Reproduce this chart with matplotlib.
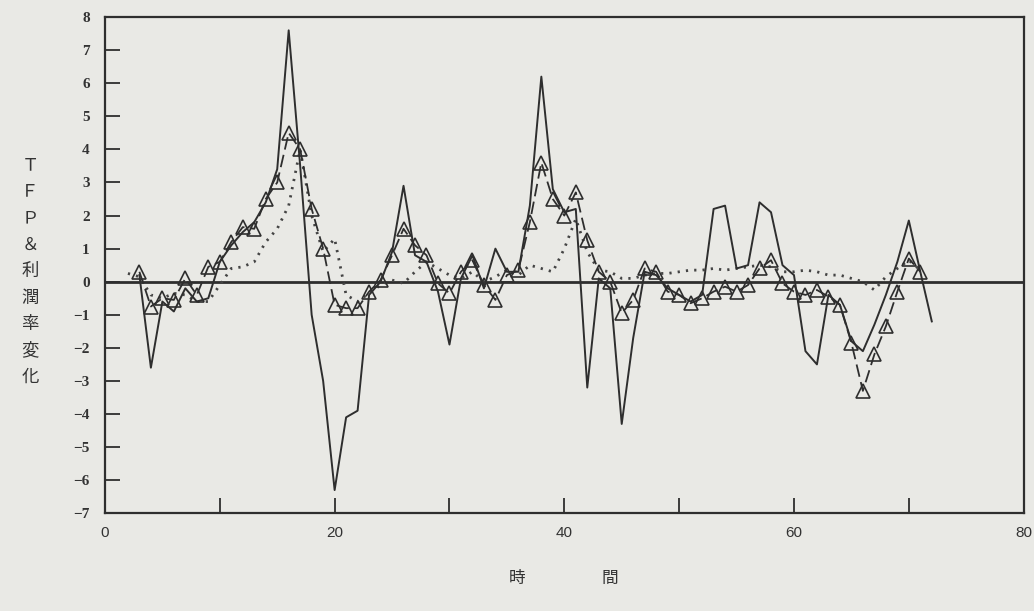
import matplotlib
matplotlib.use("Agg")
import matplotlib.pyplot as plt
from matplotlib.ticker import MultipleLocator, FuncFormatter

# ---- data ----
x_solid = list(range(3, 73))
solid = [0.2, -2.6, -0.6, -0.9, -0.2, -0.6, -0.5, 0.6, 1.1, 1.5,
         1.8, 2.4, 3.4, 7.6, 3.5, -1.0, -3.0, -6.3, -4.1, -3.9,
         -0.4, 0.0, 0.9, 2.9, 0.8, 0.6, -0.3, -1.9, 0.1, 0.8,
         -0.2, 1.0, 0.3, 0.3, 2.3, 6.2, 2.8, 2.1, 2.2, -3.2,
         0.1, -0.2, -4.3, -1.7, 0.3, 0.2, -0.2, -0.4, -0.6, -0.4,
         2.2, 2.3, 0.4, 0.5, 2.4, 2.1, 0.5, 0.2, -2.1, -2.5,
         -0.4, -0.7, -1.8, -2.1, -1.3, -0.4, 0.6, 1.85, 0.3, -1.2]

x_tri = list(range(3, 72))
tri = [0.3, -0.75, -0.5, -0.55, 0.1, -0.4, 0.45, 0.6, 1.2, 1.65,
       1.6, 2.5, 3.0, 4.5, 4.0, 2.2, 1.0, -0.7, -0.8, -0.8,
       -0.3, 0.05, 0.8, 1.6, 1.1, 0.8, -0.05, -0.35, 0.3, 0.65,
       -0.1, -0.55, 0.2, 0.35, 1.8, 3.6, 2.5, 2.0, 2.7, 1.25,
       0.3, 0.0, -0.95, -0.55, 0.4, 0.3, -0.3, -0.4, -0.65, -0.5,
       -0.3, -0.15, -0.3, -0.1, 0.4, 0.65, -0.05, -0.3, -0.4, -0.25,
       -0.45, -0.7, -1.85, -3.3, -2.2, -1.35, -0.3, 0.7, 0.3]

x_dot = list(range(2, 72))
dot = [0.25, 0.15, -0.4, -0.5, -0.35, -0.4, -0.6, -0.6, -0.1, 0.4,
       0.45, 0.6, 1.2, 1.6, 2.3, 4.0, 2.0, 0.9, 1.3, -0.4,
       -0.6, -0.35, -0.1, 0.05, -0.05, 0.3, 0.6, 0.4, 0.2, 0.1,
       0.3, 0.0, 0.15, 0.35, 0.2, 0.5, 0.4, 0.3, 1.0, 1.9,
       0.9, 0.35, 0.3, 0.1, 0.1, 0.2, 0.25, 0.25, 0.3, 0.35,
       0.35, 0.4, 0.35, 0.4, 0.45, 0.5, 0.45, 0.3, 0.3, 0.35,
       0.3, 0.2, 0.2, 0.1, 0.0, -0.25, 0.15, 0.4, 0.65, 0.35]

x_labels = {0: "0", 20: "20", 40: "40", 60: "60", 80: "80"}
ylabel_chars = ["Ｔ", "Ｆ", "Ｐ", "＆", "利", "潤", "率", "変", "化"]

# ---- figure ----
bg = "#e9e9e5"
ink = "#2e2e2e"
fig = plt.figure(figsize=(10.34, 6.11), dpi=100, facecolor=bg)
ax = fig.add_axes([0.1015, 0.160, 0.8885, 0.812], facecolor=bg)

ax.axhline(0, color=ink, lw=2.0, zorder=1)
ax.plot(x_dot, dot, color="#444444", lw=2.0, linestyle=(0, (0.8, 2.2)), zorder=2)
ax.plot(x_solid, solid, color=ink, lw=1.4, zorder=3)
ax.plot(x_tri, tri, color=ink, lw=1.3, linestyle=(0, (7, 3)),
        marker="^", markersize=10, mfc="none", mec=ink, mew=1.2, zorder=4)

ax.set_xlim(0, 80)
ax.set_ylim(-7, 8)

for s in ax.spines.values():
    s.set_color(ink)
    s.set_linewidth(1.6)

ax.xaxis.set_major_locator(MultipleLocator(10))
ax.xaxis.set_major_formatter(FuncFormatter(lambda v, p: x_labels.get(int(round(v)), "")))
ax.yaxis.set_major_locator(MultipleLocator(1))
ax.yaxis.set_major_formatter(FuncFormatter(lambda v, p: ("−%d" % abs(int(round(v)))) if v < -0.5 else "%d" % int(round(v))))
ax.tick_params(axis="both", direction="in", length=11, width=1.3, color=ink)
ax.tick_params(axis="x", pad=9, labelsize=11, labelcolor="#333333")
ax.tick_params(axis="y", pad=11, labelsize=11)
for lab in ax.get_yticklabels():
    lab.set_family(["Liberation Serif", "DejaVu Serif"])
    lab.set_color("#333333")
    lab.set_weight("bold")
for lab in ax.get_xticklabels():
    lab.set_family(["Liberation Sans", "DejaVu Sans"])

# vertical stacked y label
y0 = 165
step = 26.5
for i, ch in enumerate(ylabel_chars):
    fig.text(30 / 1034, 1 - (y0 + i * step) / 611, ch, ha="center", va="center",
             fontsize=12.5, color="#333333", family=["Noto Sans CJK JP", "DejaVu Sans"])

fig.text(517 / 1034, 1 - 578 / 611, "時", ha="center", va="center", fontsize=12,
         color="#333333", family=["Noto Sans CJK JP", "DejaVu Sans"])
fig.text(610 / 1034, 1 - 578 / 611, "間", ha="center", va="center", fontsize=12,
         color="#333333", family=["Noto Sans CJK JP", "DejaVu Sans"])

fig.savefig("out.png", dpi=100, facecolor=bg)
